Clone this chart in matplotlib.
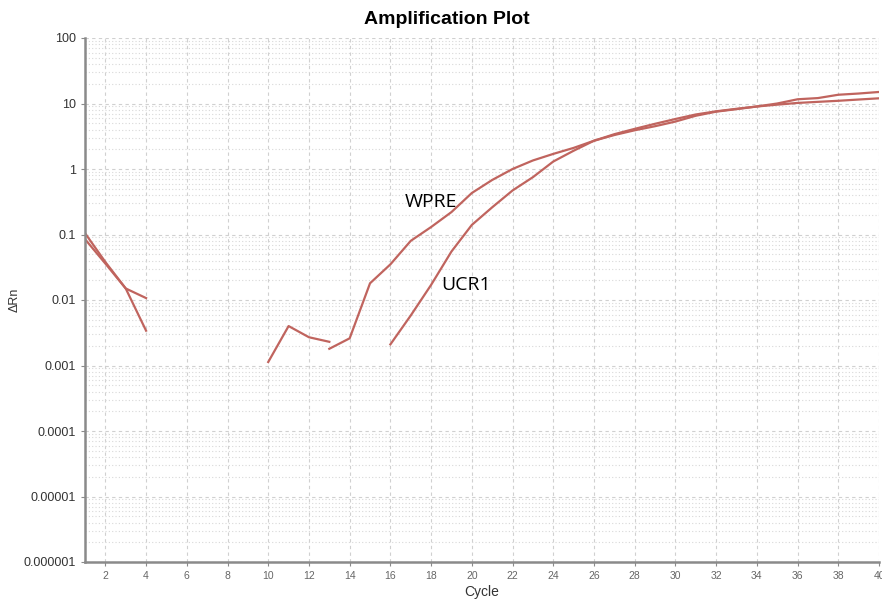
import numpy as np
import matplotlib
matplotlib.use("Agg")
import matplotlib.pyplot as plt
from matplotlib.ticker import FixedLocator, FixedFormatter, LogLocator, NullFormatter

nan = np.nan

cycles = list(range(1, 41))

# delta Rn per cycle; nan where the baseline-corrected value is not positive
wpre = [0.105, 0.038, 0.015, 0.0107, nan, nan, nan, nan, nan, nan,
        nan, nan, 0.0018, 0.0026, 0.018, 0.035, 0.08, 0.13, 0.22, 0.43,
        0.68, 1.0, 1.35, 1.7, 2.1, 2.7, 3.3, 3.9, 4.5, 5.3,
        6.5, 7.5, 8.2, 9.0, 9.6, 10.2, 10.6, 11.0, 11.5, 12.0]
ucr1 = [0.085, 0.036, 0.015, 0.0034, nan, nan, nan, nan, nan, 0.00113,
        0.004, 0.0027, 0.0023, nan, nan, 0.0021, 0.0058, 0.017, 0.055, 0.14,
        0.26, 0.47, 0.75, 1.3, 1.9, 2.7, 3.4, 4.1, 4.9, 5.8,
        6.8, 7.6, 8.3, 9.0, 10.0, 11.6, 12.1, 13.6, 14.2, 15.0]

y_ticks = [1e-6, 1e-5, 1e-4, 1e-3, 1e-2, 1e-1, 1, 10, 100]
y_labels = ["0.000001", "0.00001", "0.0001", "0.001", "0.01", "0.1", "1", "10", "100"]

line_color = "#c0645e"
plt.rcParams["font.family"] = ["Liberation Sans", "DejaVu Sans"]

fig = plt.figure(figsize=(8.82, 5.99), dpi=100)
ax = fig.add_axes([85 / 882, 1 - 562 / 599, 794 / 882, 524 / 599])

ax.plot(cycles, wpre, color=line_color, lw=1.6)
ax.plot(cycles, ucr1, color=line_color, lw=1.6)

ax.set_yscale("log")
ax.set_ylim(1e-6, 100)
ax.set_xlim(1, 40)

ax.xaxis.set_major_locator(FixedLocator(range(2, 41, 2)))
ax.yaxis.set_major_locator(FixedLocator(y_ticks))
ax.yaxis.set_major_formatter(FixedFormatter(y_labels))
ax.yaxis.set_minor_locator(LogLocator(base=10, subs=np.arange(2, 10), numticks=20))
ax.yaxis.set_minor_formatter(NullFormatter())

ax.grid(which="major", axis="both", color="#d0d0d0", ls=(0, (3, 3)), lw=0.8)
ax.grid(which="minor", axis="y", color="#d8d8d8", ls=(0, (1, 2)), lw=0.8)
ax.set_axisbelow(True)

for side in ("top", "right"):
    ax.spines[side].set_visible(False)
for side in ("left", "bottom"):
    ax.spines[side].set_color("#8a8a8a")
    ax.spines[side].set_linewidth(1.8)

ax.tick_params(axis="y", which="major", labelsize=9, labelcolor="#333333", color="#8a8a8a", length=3)
ax.tick_params(axis="y", which="minor", length=0)
ax.tick_params(axis="x", labelsize=7.5, labelcolor="#666666", color="#8a8a8a", length=3)

fig.text(447 / 882, 1 - 20 / 599, "Amplification Plot", fontsize=14, fontweight="bold",
         ha="center", va="center")
ax.set_xlabel("Cycle", fontsize=10, color="#333333", labelpad=3)
fig.text(15 / 882, 1 - 300 / 599, "ΔRn", rotation=90, fontsize=9, color="#333333",
         ha="center", va="center")

ax.text(16.7, 0.31, "WPRE", fontsize=14, family="Open Sans", ha="left", va="center")
ax.text(18.5, 0.017, "UCR1", fontsize=14, family="Open Sans", ha="left", va="center")

fig.savefig("out.png", dpi=100)
